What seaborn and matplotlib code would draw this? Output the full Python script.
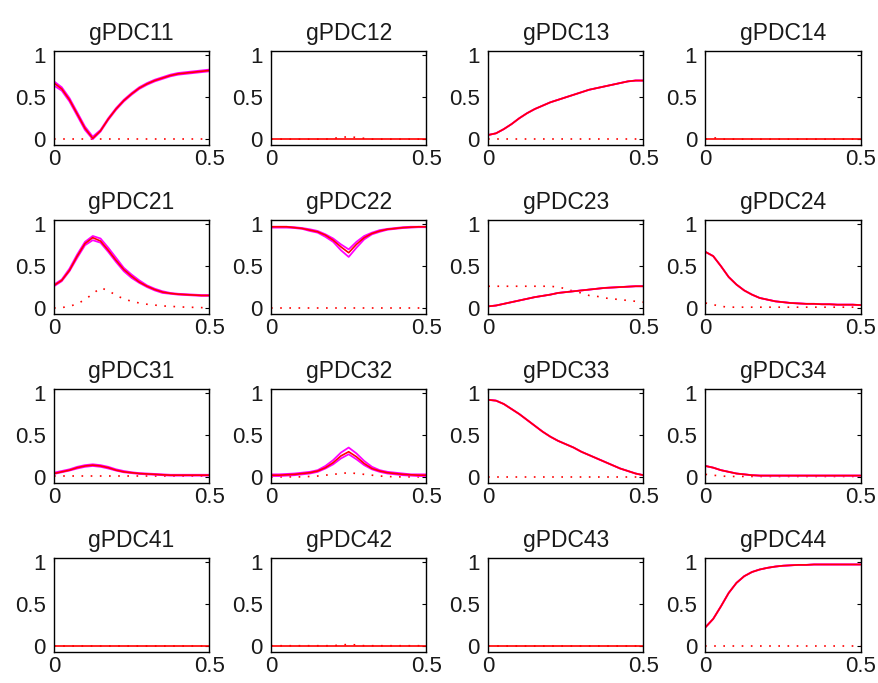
import numpy as np
import pandas as pd
import matplotlib
matplotlib.use("Agg")
import matplotlib.pyplot as plt
import seaborn as sns

# ---------------- data ----------------
freq = [0.0, 0.025, 0.05, 0.075, 0.1, 0.125, 0.15, 0.175, 0.2, 0.225, 0.25,
        0.275, 0.3, 0.325, 0.35, 0.375, 0.4, 0.425, 0.45, 0.475, 0.5]

zero = [0.0] * 21

g11 = [0.67, 0.60, 0.47, 0.30, 0.13, 0.01, 0.10, 0.24, 0.36, 0.46, 0.54,
       0.61, 0.66, 0.70, 0.73, 0.76, 0.78, 0.79, 0.80, 0.81, 0.82]
g11_hi = [0.69, 0.62, 0.49, 0.32, 0.15, 0.03, 0.11, 0.25, 0.37, 0.47, 0.55,
          0.62, 0.67, 0.71, 0.74, 0.77, 0.79, 0.80, 0.81, 0.82, 0.83]
g11_lo = [0.64, 0.58, 0.45, 0.28, 0.11, 0.00, 0.09, 0.23, 0.35, 0.45, 0.53,
          0.60, 0.65, 0.69, 0.72, 0.75, 0.77, 0.78, 0.79, 0.80, 0.81]
t11 = [0.005] * 21

g12 = zero
t12 = [0.0, 0.0, 0.0, 0.0, 0.0, 0.0, 0.0, 0.0, 0.01, 0.02, 0.03,
       0.02, 0.01, 0.0, 0.0, 0.0, 0.0, 0.0, 0.0, 0.0, 0.0]

g13 = [0.05, 0.07, 0.12, 0.18, 0.25, 0.31, 0.36, 0.40, 0.44, 0.47, 0.50,
       0.53, 0.56, 0.59, 0.61, 0.63, 0.65, 0.67, 0.69, 0.70, 0.70]
t13 = [0.005] * 21

g14 = zero
t14 = [0.0, 0.02, 0.0, 0.0, 0.0, 0.0, 0.0, 0.0, 0.0, 0.0, 0.0,
       0.0, 0.0, 0.0, 0.0, 0.0, 0.0, 0.0, 0.0, 0.0, 0.0]

g21 = [0.27, 0.33, 0.45, 0.62, 0.77, 0.84, 0.80, 0.69, 0.57, 0.46, 0.38,
       0.31, 0.26, 0.22, 0.19, 0.175, 0.165, 0.16, 0.155, 0.15, 0.15]
g21_hi = [0.28, 0.34, 0.47, 0.64, 0.79, 0.86, 0.83, 0.72, 0.60, 0.48, 0.40,
          0.33, 0.27, 0.23, 0.20, 0.18, 0.17, 0.165, 0.16, 0.155, 0.155]
g21_lo = [0.26, 0.32, 0.44, 0.60, 0.75, 0.81, 0.78, 0.67, 0.55, 0.44, 0.36,
          0.30, 0.25, 0.21, 0.18, 0.17, 0.16, 0.155, 0.15, 0.145, 0.145]
t21 = [0.0, 0.005, 0.02, 0.05, 0.10, 0.17, 0.24, 0.21, 0.15, 0.11, 0.08,
       0.06, 0.045, 0.035, 0.025, 0.02, 0.015, 0.01, 0.008, 0.005, 0.0]

g22 = [0.97, 0.97, 0.97, 0.96, 0.95, 0.93, 0.91, 0.87, 0.81, 0.73, 0.66,
       0.76, 0.84, 0.89, 0.92, 0.94, 0.95, 0.96, 0.965, 0.97, 0.97]
g22_hi = [0.97, 0.97, 0.97, 0.965, 0.955, 0.94, 0.92, 0.88, 0.83, 0.76, 0.70,
          0.79, 0.86, 0.90, 0.93, 0.945, 0.955, 0.965, 0.97, 0.97, 0.97]
g22_lo = [0.96, 0.96, 0.96, 0.955, 0.945, 0.92, 0.90, 0.85, 0.79, 0.69, 0.61,
          0.72, 0.82, 0.88, 0.91, 0.935, 0.945, 0.955, 0.96, 0.965, 0.965]
t22 = [0.0] * 21

g23 = [0.02, 0.03, 0.05, 0.07, 0.09, 0.11, 0.13, 0.145, 0.16, 0.18, 0.19,
       0.20, 0.21, 0.22, 0.23, 0.24, 0.245, 0.25, 0.255, 0.26, 0.26]
t23 = [0.26, 0.26, 0.26, 0.26, 0.26, 0.26, 0.26, 0.26, 0.26, 0.25, 0.23,
       0.20, 0.18, 0.15, 0.14, 0.12, 0.11, 0.10, 0.09, 0.08, 0.07]

g24 = [0.67, 0.62, 0.50, 0.37, 0.28, 0.21, 0.16, 0.12, 0.10, 0.08, 0.07,
       0.06, 0.055, 0.05, 0.05, 0.045, 0.045, 0.04, 0.04, 0.04, 0.035]
t24 = [0.06, 0.04, 0.02, 0.01, 0.01, 0.01, 0.01, 0.01, 0.01, 0.01, 0.01,
       0.01, 0.01, 0.01, 0.01, 0.01, 0.01, 0.01, 0.01, 0.01, 0.01]

g31 = [0.04, 0.06, 0.08, 0.11, 0.13, 0.14, 0.13, 0.11, 0.08, 0.06, 0.05,
       0.04, 0.035, 0.03, 0.025, 0.02, 0.02, 0.02, 0.02, 0.02, 0.02]
g31_hi = [0.05, 0.07, 0.09, 0.12, 0.14, 0.15, 0.14, 0.12, 0.09, 0.07, 0.055,
          0.045, 0.04, 0.035, 0.03, 0.025, 0.025, 0.025, 0.025, 0.025, 0.025]
g31_lo = [0.035, 0.055, 0.075, 0.10, 0.12, 0.13, 0.12, 0.10, 0.075, 0.055, 0.045,
          0.035, 0.03, 0.025, 0.02, 0.015, 0.015, 0.015, 0.015, 0.015, 0.015]
t31 = [0.015] * 21

g32 = [0.02, 0.02, 0.025, 0.03, 0.04, 0.05, 0.07, 0.11, 0.17, 0.25, 0.30,
       0.24, 0.16, 0.10, 0.07, 0.05, 0.04, 0.03, 0.025, 0.02, 0.02]
g32_hi = [0.03, 0.03, 0.035, 0.04, 0.05, 0.06, 0.08, 0.13, 0.20, 0.29, 0.35,
          0.28, 0.19, 0.12, 0.08, 0.06, 0.05, 0.04, 0.03, 0.03, 0.03]
g32_lo = [0.01, 0.01, 0.015, 0.02, 0.03, 0.04, 0.06, 0.10, 0.15, 0.22, 0.27,
          0.21, 0.14, 0.09, 0.06, 0.04, 0.03, 0.02, 0.015, 0.01, 0.01]
t32 = [0.0, 0.0, 0.0, 0.0, 0.0, 0.005, 0.01, 0.02, 0.03, 0.04, 0.05,
       0.04, 0.03, 0.02, 0.01, 0.005, 0.0, 0.0, 0.0, 0.0, 0.0]

g33 = [0.92, 0.91, 0.87, 0.81, 0.75, 0.68, 0.61, 0.54, 0.48, 0.43, 0.39,
       0.35, 0.30, 0.26, 0.22, 0.18, 0.14, 0.10, 0.07, 0.04, 0.02]
t33 = [0.0] * 21

g34 = [0.13, 0.11, 0.08, 0.06, 0.04, 0.03, 0.02, 0.015, 0.015, 0.015, 0.015,
       0.015, 0.015, 0.015, 0.015, 0.015, 0.015, 0.015, 0.015, 0.015, 0.015]
t34 = [0.03, 0.02, 0.01, 0.005, 0.005, 0.005, 0.005, 0.005, 0.005, 0.005, 0.005,
       0.005, 0.005, 0.005, 0.005, 0.005, 0.005, 0.005, 0.005, 0.005, 0.005]

g41 = zero
t41 = [0.0] * 21
g42 = zero
t42 = [0.0, 0.0, 0.0, 0.0, 0.0, 0.0, 0.0, 0.0, 0.0, 0.01, 0.015,
       0.01, 0.0, 0.0, 0.0, 0.0, 0.0, 0.0, 0.0, 0.0, 0.0]
g43 = zero
t43 = [0.0] * 21

g44 = [0.22, 0.32, 0.47, 0.63, 0.75, 0.83, 0.88, 0.91, 0.93, 0.945, 0.955,
       0.96, 0.965, 0.965, 0.97, 0.97, 0.97, 0.97, 0.97, 0.97, 0.97]
t44 = [0.0] * 21

titles = ["gPDC11", "gPDC12", "gPDC13", "gPDC14",
          "gPDC21", "gPDC22", "gPDC23", "gPDC24",
          "gPDC31", "gPDC32", "gPDC33", "gPDC34",
          "gPDC41", "gPDC42", "gPDC43", "gPDC44"]

mains = [g11, g12, g13, g14, g21, g22, g23, g24,
         g31, g32, g33, g34, g41, g42, g43, g44]
highs = [g11_hi, None, g13, None, g21_hi, g22_hi, g23, g24,
         g31_hi, g32_hi, g33, g34, None, None, None, g44]
lows = [g11_lo, None, g13, None, g21_lo, g22_lo, g23, g24,
        g31_lo, g32_lo, g33, g34, None, None, None, g44]
thresholds = [t11, t12, t13, t14, t21, t22, t23, t24,
              t31, t32, t33, t34, t41, t42, t43, t44]

xticks = [0, 0.5]
xticklabels = ["0", "0.5"]
yticks = [0, 0.5, 1]
yticklabels = ["0", "0.5", "1"]

# ---------------- style ----------------
sns.set_theme(style="white")
plt.rcParams.update({
    "font.family": ["Liberation Sans", "DejaVu Sans"],
    "axes.edgecolor": "black",
    "axes.linewidth": 1.0,
    "xtick.direction": "in",
    "ytick.direction": "in",
    "xtick.top": True,
    "ytick.right": True,
    "xtick.major.size": 3,
    "ytick.major.size": 3,
    "xtick.major.width": 0.8,
    "ytick.major.width": 0.8,
    "xtick.color": "black",
    "ytick.color": "black",
})

fig, axes = plt.subplots(4, 4, figsize=(8.79, 6.83), dpi=100)
fig.subplots_adjust(left=0.0614, right=0.979, top=0.925, bottom=0.046,
                    wspace=0.40, hspace=0.80)

RED = "#ff0000"
MAG = "#ff00ff"
TXT = "#1a1a1a"

for i, ax in enumerate(axes.flat):
    thr = thresholds[i]
    sns.lineplot(x=freq, y=thr, ax=ax, color=RED, lw=1.2,
                 linestyle=(0, (1, 4.5)))
    if highs[i] is not None:
        sns.lineplot(x=freq, y=highs[i], ax=ax, color=MAG, lw=1.3)
        sns.lineplot(x=freq, y=lows[i], ax=ax, color=MAG, lw=1.3)
    sns.lineplot(x=freq, y=mains[i], ax=ax, color=RED, lw=1.2)

    ax.set_xlim(0, 0.5)
    ax.set_ylim(-0.07, 1.05)
    ax.set_xticks(xticks)
    ax.set_xticklabels(xticklabels)
    ax.set_yticks(yticks)
    ax.set_yticklabels(yticklabels)
    ax.tick_params(axis="both", labelsize=16, colors="black", labelcolor=TXT)
    ax.tick_params(axis="x", pad=3)
    ax.tick_params(axis="y", pad=6)
    ax.set_xlabel("")
    ax.set_ylabel("")
    ax.set_title(titles[i], fontsize=16.5, pad=8, color=TXT)
    for sp in ax.spines.values():
        sp.set_visible(True)
        sp.set_color("black")

fig.savefig("out.png", dpi=100, facecolor="white")
